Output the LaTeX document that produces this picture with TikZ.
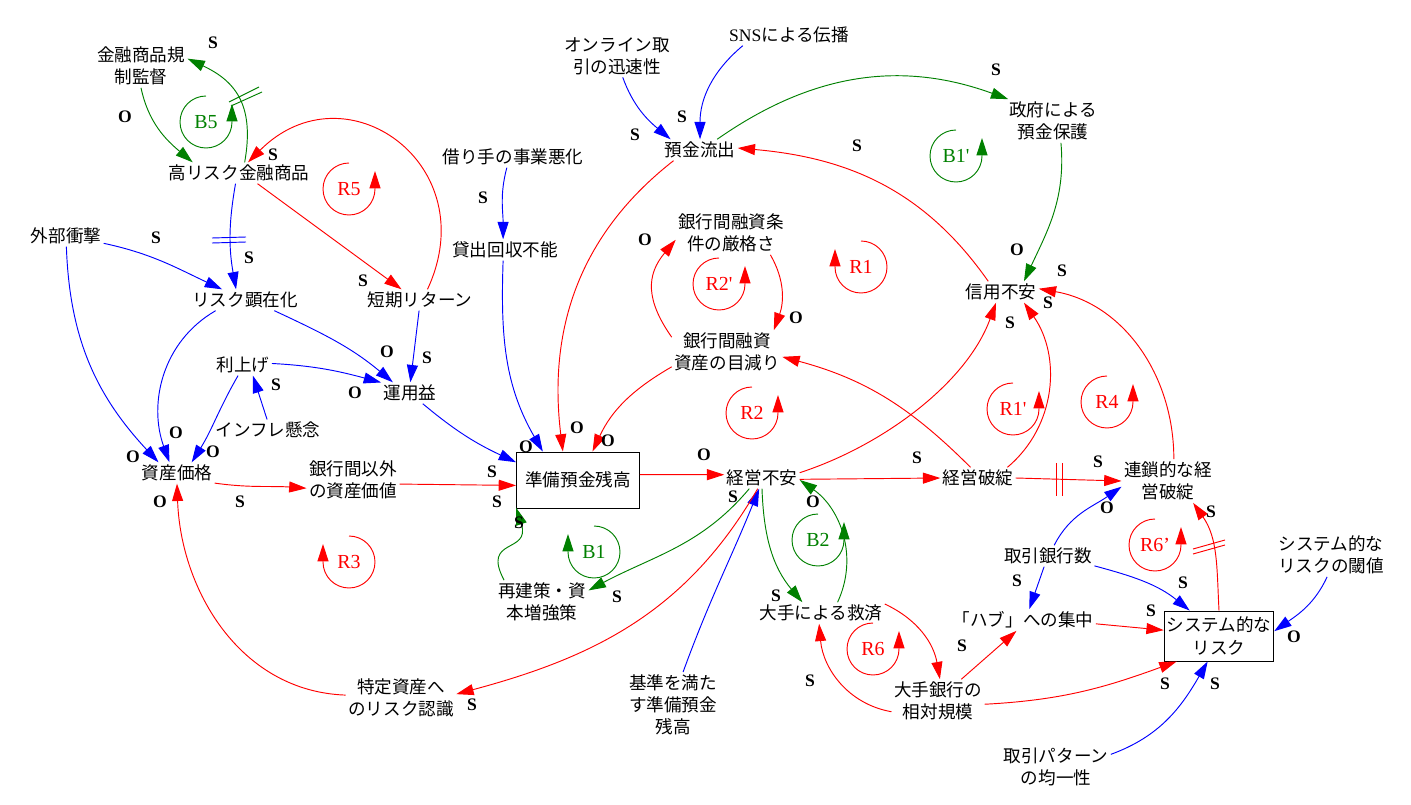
\documentclass[tikz,border=0pt]{standalone}
\usepackage{fontspec}
\setmainfont{Liberation Serif}
\newfontfamily\jpfont{Noto Sans CJK JP}
\usetikzlibrary{arrows.meta}
\definecolor{dgreen}{RGB}{0,128,0}

\begin{document}
\begin{tikzpicture}[x=0.3mm, y=0.3mm,
    var/.style={font=\jpfont\fontsize{15}{19}\selectfont, align=center, inner sep=2pt},
    box/.style={var, draw, line width=0.8pt},
    pol/.style={font=\bfseries\fontsize{15}{16}\selectfont, inner sep=0pt},
    lbl/.style={font=\fontsize{17}{18}\selectfont, inner sep=0pt},
    lnk/.style={line width=0.8pt, -{Triangle[length=5.2mm,width=3.3mm]}}]
    \useasboundingbox (0,0) rectangle (1411,-805);

    % variables
    \node[var] (kisei) at (141,-66) {金融商品規\\制監督};
    \node[var] (hrisk) at (239,-173) {高リスク金融商品};
    \node[var] (gaibu) at (66,-236) {外部衝撃};
    \node[var] (risk) at (245,-300) {リスク顕在化};
    \node[var] (tanki) at (420,-300) {短期リターン};
    \node[var] (riage) at (243,-365) {利上げ};
    \node[var] (infl) at (268,-430) {インフレ懸念};
    \node[var] (unyo) at (410,-393) {運用益};
    \node[var] (shisan) at (177,-473) {資産価格};
    \node[var] (igai) at (353,-480) {銀行間以外\\の資産価値};
    \node[var] (kariate) at (513,-157) {借り手の事業悪化};
    \node[var] (kashi) at (505,-250) {貸出回収不能};
    \node[var] (online) at (617,-56) {オンライン取\\引の迅速性};
    \node[var] (sns) at (789,-35) {{\normalfont SNS}による伝播};
    \node[var] (yokin) at (700,-150) {預金流出};
    \node[var] (seifu) at (1053,-121) {政府による\\預金保護};
    \node[var] (joken) at (731,-233) {銀行間融資条\\件の厳格さ};
    \node[var] (mebe) at (727,-352) {銀行間融資\\資産の目減り};
    \node[var] (shinyo) at (1001,-292) {信用不安};
    \node[box, minimum width=36.9mm, minimum height=16.8mm] (junbi) at (578,-480) {準備預金残高};
    \node[var] (keiei) at (762,-478) {経営不安};
    \node[var] (hatan) at (978,-478) {経営破綻};
    \node[var] (rensa) at (1168,-481) {連鎖的な経\\営破綻};
    \node[var] (saiken) at (542,-602) {再建策・資\\本増強策};
    \node[var] (kyusai) at (821,-613) {大手による救済};
    \node[var] (kijun) at (673,-705) {基準を満た\\す準備預金\\残高};
    \node[var] (tokutei) at (401,-698) {特定資産へ\\のリスク認識};
    \node[var] (kibo) at (938,-701) {大手銀行の\\相対規模};
    \node[var] (torihiki) at (1048,-556) {取引銀行数};
    \node[var] (hub) at (1023,-620) {「ハブ」への集中};
    \node[box, minimum width=30.6mm, minimum height=15mm] (sysrisk) at (1219,-636) {システム的な\\リスク};
    \node[var] (kanchi) at (1331,-555) {システム的な\\リスクの閾値};
    \node[var] (pattern) at (1056,-767) {取引パターン\\の均一性};

    % green links
    \draw[lnk, dgreen] (kisei.-90) to[out=-78, in=140] (hrisk.167);
    \draw[lnk, dgreen] (hrisk.62) to[out=80, in=-25, looseness=1.2] (kisei.9);
    \draw[lnk, dgreen] (yokin.32) to[out=35, in=160] (seifu.154);
    \draw[lnk, dgreen] (seifu.-70) to[out=-85, in=65] (shinyo.25);
    \draw[lnk, dgreen] (keiei.-140) to[out=-130, in=28] (saiken.14);
    \draw[lnk, dgreen] (saiken.150) to[out=118, in=-72, looseness=1.7] (junbi.-156);
    \draw[lnk, dgreen] (keiei.-90) to[out=-88, in=130] (kyusai.150);
    \draw[lnk, dgreen] (kyusai.33) to[out=65, in=-35] (keiei.-3);

    % blue links
    \draw[lnk, blue] (hrisk.-108) to[out=-100, in=100] (risk.130);
    \draw[lnk, blue] (gaibu.-11) to[out=-12, in=155] (risk.155);
    \draw[lnk, blue] (gaibu.-88) to[out=-88, in=133] (shisan.150);
    \draw[lnk, blue] (risk.-160) to[out=-150, in=110] (shisan.125);
    \draw[lnk, blue] (risk.-20) to[out=-25, in=140] (unyo.148);
    \draw[lnk, blue] (tanki.-95) -- (unyo.88);
    \draw[lnk, blue] (riage.3) to[out=-3, in=165] (unyo.160);
    \draw[lnk, blue] (riage.-115) to[out=-120, in=58] (shisan.36);
    \draw[lnk, blue] (infl.95) -- (riage.-47);
    \draw[lnk, blue] (unyo.-40) to[out=-40, in=155] (junbi.164);
    \draw[lnk, blue] (kashi.-100) to[out=-92, in=120] (junbi.141);
    \draw[lnk, blue] (kariate.-120) to[out=-105, in=90] (kashi.100);
    \draw[lnk, blue] (online.-75) to[out=-70, in=140] (yokin.160);
    \draw[lnk, blue] (sns.-167) to[out=-140, in=90] (yokin.90);
    \draw[lnk, blue] (kijun.73) to[out=70, in=-112] (keiei.-105);
    \draw[lnk, blue] (torihiki.-110) -- (hub.60);
    \draw[lnk, blue] (torihiki.-12) to[out=-15, in=141] (sysrisk.139);
    \draw[lnk, blue] (torihiki.60) to[out=63, in=-145] (rensa.-173);
    \draw[lnk, blue] (kanchi.-100) to[out=-115, in=35] (sysrisk.5);
    \draw[lnk, blue] (pattern.13) to[out=20, in=-120] (sysrisk.-114);

    % red links
    \draw[lnk, red] (hrisk.-30) -- (tanki.150);
    \draw[lnk, red] (tanki.55) to[out=65, in=45, looseness=1.6] (hrisk.50);
    \draw[lnk, red] (shisan.-15) to[out=-8, in=176] (igai.190);
    \draw[lnk, red] (igai.-5) -- (junbi.185);
    \draw[lnk, red] (yokin.-158) to[out=-142, in=97] (junbi.118);
    \draw[lnk, red] (mebe.-165) to[out=-150, in=65] (junbi.63);
    \draw[lnk, red] (mebe.165) to[out=125, in=-130, looseness=1.2] (joken.-173);
    \draw[lnk, red] (joken.-29) to[out=-60, in=70] (mebe.25);
    \draw[lnk, red] (hatan.125) to[out=135, in=-15] (mebe.-5);
    \draw[lnk, red] (junbi.5) -- (keiei.175);
    \draw[lnk, red] (keiei.-2) -- (hatan.180);
    \draw[lnk, red] (keiei.8) to[out=18, in=-110, looseness=0.85] (shinyo.-115);
    \draw[lnk, red] (hatan.20) to[out=40, in=-55] (shinyo.-25);
    \draw[lnk, red] (rensa.75) to[out=90, in=-10] (shinyo.5);
    \draw[lnk, red] (shinyo.140) to[out=125, in=-5] (yokin.3);
    \draw[lnk, red] (keiei.-112) to[out=-120, in=15] (tokutei.4);
    \draw[lnk, red] (tokutei.177) to[out=178, in=-88] (shisan.-90);
    \draw[lnk, red] (kibo.-167) to[out=170, in=-85] (kyusai.-100);
    \draw[lnk, red] (kyusai.8) to[out=-25, in=100] (kibo.85);
    \draw[lnk, red] (kibo.43) -- (hub.-121);
    \draw[lnk, red] (kibo.-4) to[out=3, in=-160] (sysrisk.-149);
    \draw[lnk, red] (hub.-3) -- (sysrisk.174);
    \draw[lnk, red] (hatan.0) -- (rensa.180);
    \draw[lnk, red] (sysrisk.90) to[out=93, in=-55] (rensa.-41);

    % delay marks
    \draw[dgreen, line width=0.8pt] (229,-102) -- (259,-87) (231,-106) -- (262,-92);
    \draw[blue, line width=0.8pt] (212,-238) -- (246,-237) (212,-243) -- (246,-242);
    \draw[red, line width=0.8pt] (1056,-463) -- (1056,-496) (1062,-463) -- (1062,-496);
    \draw[red, line width=0.8pt] (1193,-549) -- (1225,-540) (1193,-554) -- (1225,-545);

    % loops
    \foreach \x/\y/\t/\c [count=\i] in {206/122/B5/dgreen, 349/189/R5/red, 956/156/B1\textquotesingle/dgreen,
        719/284/R2\textquotesingle/red, 752/413/R2/red, 1013/409/R1\textquotesingle/red, 1107/402/R4/red,
        818/540/B2/dgreen, 873/649/R6/red, 1155/545/R6’/red} {
        \draw[lnk, \c] (\x,-\y) ++(90:26) arc[start angle=90, end angle=360, radius=26] -- ++(0,18);
        \node[lbl, text=\c] (ccw\i) at (\x,-\y) {\t};
    }
    \foreach \x/\y/\t/\c [count=\i] in {861/267/R1/red, 349/562/R3/red, 594/552/B1/dgreen} {
        \draw[lnk, \c] (\x,-\y) ++(90:26) arc[start angle=90, end angle=-180, radius=26] -- ++(0,18);
        \node[lbl, text=\c] (cw\i) at (\x,-\y) {\t};
    }

    % polarities
    \foreach \p/\x/\y [count=\i] in {S/213/43, O/125/117, S/273/155, S/156/238, S/249/258, S/363/281,
        O/387/352, S/427/358, S/276/385, O/355/393, O/176/433, O/133/457, O/213/452, S/240/502,
        O/160/502, S/483/198, S/635/135, S/682/117, S/857/146, S/996/70, O/1017/250, S/1062/271,
        S/1048/303, S/1010/323, O/645/240, O/796/318, O/526/447, O/577/428, O/608/441, S/492/472,
        S/497/502, S/519/523, O/704/455, S/917/458, S/733/497, S/617/597, S/472/705, S/776/596,
        O/813/502, S/810/681, S/962/646, S/1017/581, S/1183/583, S/1151/611, S/1165/684,
        S/1215/684, O/1294/637, O/1107/508, S/1098/462, S/1211/512}
        \node[pol] (pol\i) at (\x,-\y) {\p};
\end{tikzpicture}
\end{document}
